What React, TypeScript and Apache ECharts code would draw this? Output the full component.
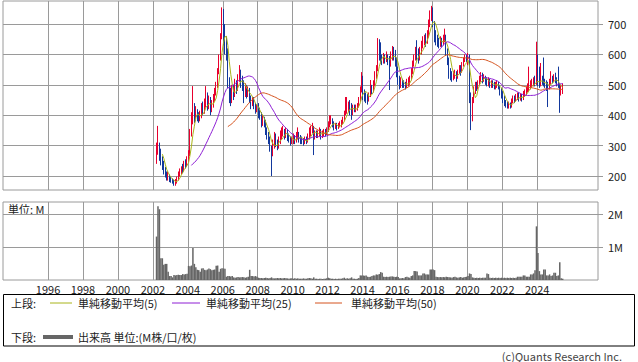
import React, { useEffect, useRef } from "react";
import * as echarts from "echarts";

// Monthly data, first candle = March 2002
const START_YEAR = 2002;
const START_MONTH = 3;

// [open, close, low, high]
const candles: [number, number, number, number][] = [
  // 2002 (Mar-Dec)
  [260, 290, 240, 310], [290, 300, 270, 365], [300, 280, 250, 310], [280, 250, 235, 290], [250, 240, 220, 265],
  [240, 220, 205, 250], [220, 205, 195, 230], [205, 195, 185, 215], [195, 200, 185, 215], [200, 190, 180, 205],
  // 2003
  [190, 185, 178, 200], [185, 180, 175, 192], [180, 175, 168, 188], [175, 180, 168, 190], [180, 190, 175, 198], [190, 205, 185, 215],
  [205, 215, 198, 225], [215, 225, 205, 232], [225, 220, 210, 240], [220, 240, 215, 250], [240, 235, 225, 255], [235, 255, 230, 265],
  // 2004
  [255, 270, 245, 285], [270, 340, 265, 355], [340, 390, 330, 410], [390, 430, 370, 496], [430, 390, 375, 440], [390, 410, 380, 430],
  [410, 395, 380, 420], [395, 390, 375, 410], [390, 400, 380, 415], [400, 420, 390, 440], [420, 415, 400, 445], [415, 440, 405, 455],
  // 2005
  [440, 455, 425, 496], [455, 430, 415, 475], [430, 445, 420, 465], [445, 420, 400, 460], [420, 435, 410, 450], [435, 455, 425, 470],
  [455, 475, 445, 490], [475, 500, 465, 510], [500, 545, 490, 555], [545, 590, 535, 600], [590, 660, 580, 670], [660, 740, 650, 755],
  // 2006
  [740, 660, 630, 750], [660, 640, 600, 700], [640, 600, 580, 660], [600, 510, 490, 620], [510, 470, 440, 525], [470, 455, 430, 490],
  [455, 480, 440, 500], [480, 470, 450, 500], [470, 500, 460, 520], [500, 490, 470, 515], [490, 520, 480, 535], [520, 540, 510, 565],
  // 2007
  [540, 510, 490, 550], [510, 500, 480, 530], [500, 470, 440, 515], [470, 490, 460, 505], [490, 475, 455, 500], [475, 480, 460, 495],
  [480, 455, 440, 490], [455, 440, 420, 465], [440, 450, 430, 460], [450, 430, 420, 460], [430, 420, 405, 440], [420, 425, 410, 435],
  // 2008
  [425, 410, 390, 440], [410, 400, 385, 425], [400, 380, 360, 410], [380, 385, 365, 400], [385, 375, 360, 395], [375, 350, 335, 385],
  [350, 335, 320, 360], [335, 320, 305, 345], [320, 295, 280, 330], [295, 275, 200, 300], [275, 300, 265, 320], [300, 320, 290, 345],
  // 2009
  [320, 310, 295, 340], [310, 300, 285, 320], [300, 315, 290, 330], [315, 335, 305, 350], [335, 340, 320, 360], [340, 345, 330, 365],
  [345, 335, 320, 355], [335, 345, 325, 360], [345, 330, 315, 355], [330, 320, 310, 340], [320, 310, 300, 330], [310, 320, 305, 330],
  // 2010
  [320, 325, 305, 340], [325, 315, 305, 335], [315, 330, 310, 345], [330, 340, 320, 360], [340, 325, 310, 345], [325, 320, 305, 335],
  [320, 315, 305, 330], [315, 310, 300, 325], [310, 320, 305, 330], [320, 315, 305, 330], [315, 325, 310, 340], [325, 340, 320, 360],
  // 2011
  [340, 350, 330, 365], [350, 360, 340, 375], [360, 330, 269, 365], [330, 340, 320, 350], [340, 335, 325, 350], [335, 340, 325, 350],
  [340, 345, 330, 360], [345, 335, 320, 355], [335, 340, 325, 350], [340, 345, 330, 355], [345, 340, 330, 355], [340, 350, 335, 360],
  // 2012
  [350, 365, 345, 380], [365, 380, 360, 400], [380, 385, 370, 400], [385, 370, 360, 390], [370, 360, 350, 380], [360, 365, 355, 375],
  [365, 360, 350, 375], [360, 365, 355, 375], [365, 370, 360, 380], [370, 375, 360, 385], [375, 385, 370, 395], [385, 405, 380, 415],
  // 2013
  [405, 420, 400, 460], [420, 425, 405, 460], [425, 430, 410, 445], [430, 420, 400, 450], [420, 410, 385, 440], [410, 425, 400, 435],
  [425, 420, 410, 435], [420, 425, 410, 435], [425, 430, 415, 440], [430, 450, 425, 460], [450, 480, 445, 495], [480, 520, 475, 542],
  // 2014
  [520, 470, 450, 530], [470, 465, 445, 485], [465, 455, 440, 475], [455, 450, 435, 470], [450, 465, 445, 475], [465, 490, 460, 516],
  [490, 480, 470, 500], [480, 500, 475, 515], [500, 530, 495, 545], [530, 550, 520, 565], [550, 620, 545, 654], [620, 600, 580, 650],
  // 2015
  [600, 585, 570, 640], [585, 580, 565, 600], [580, 590, 570, 605], [590, 585, 570, 600], [585, 595, 575, 610], [595, 580, 565, 600],
  [580, 575, 483, 595], [575, 590, 560, 610], [590, 620, 580, 628], [620, 605, 580, 625], [605, 580, 560, 615], [580, 540, 525, 590],
  // 2016
  [540, 520, 500, 560], [520, 500, 485, 530], [500, 510, 490, 525], [510, 505, 490, 520], [505, 500, 490, 515], [500, 495, 485, 510],
  [495, 505, 490, 520], [505, 510, 495, 525], [510, 520, 500, 530], [520, 545, 515, 555], [545, 570, 535, 580], [570, 590, 560, 600],
  // 2017
  [590, 610, 580, 625], [610, 600, 580, 647], [600, 590, 570, 620], [590, 610, 580, 625], [610, 630, 600, 645], [630, 640, 620, 660],
  [640, 650, 630, 665], [650, 645, 625, 670], [645, 665, 635, 680], [665, 700, 655, 715], [700, 725, 690, 745], [725, 740, 710, 760],
  // 2018
  [740, 700, 690, 755], [700, 670, 640, 710], [670, 650, 630, 680], [650, 640, 625, 665], [640, 635, 620, 655], [635, 645, 625, 660],
  [645, 640, 625, 655], [640, 650, 630, 665], [650, 660, 640, 685], [660, 610, 595, 665], [610, 580, 565, 620], [580, 540, 520, 590],
  // 2019
  [540, 530, 515, 555], [530, 525, 510, 545], [525, 530, 515, 545], [530, 535, 520, 550], [535, 525, 510, 545], [525, 540, 520, 550],
  [540, 555, 535, 565], [555, 545, 530, 565], [545, 565, 540, 575], [565, 580, 560, 590], [580, 590, 575, 600], [590, 585, 575, 600],
  // 2020
  [585, 590, 565, 605], [590, 460, 440, 600], [460, 395, 351, 475], [395, 450, 380, 460], [450, 485, 440, 495], [485, 500, 470, 510],
  [500, 495, 480, 510], [495, 505, 485, 515], [505, 520, 500, 530], [520, 530, 510, 542], [530, 520, 505, 540], [520, 525, 510, 535],
  // 2021
  [525, 515, 500, 530], [515, 505, 495, 525], [505, 510, 495, 525], [510, 500, 490, 520], [500, 505, 490, 515], [505, 500, 490, 515],
  [500, 495, 485, 510], [495, 500, 485, 510], [500, 505, 490, 515], [505, 495, 485, 510], [495, 480, 465, 500], [480, 470, 455, 490],
  // 2022
  [470, 455, 440, 480], [455, 440, 430, 465], [440, 435, 425, 450], [435, 430, 422, 445], [430, 435, 422, 445], [435, 430, 422, 442],
  [430, 445, 425, 455], [445, 455, 440, 465], [455, 450, 440, 465], [450, 460, 445, 470], [460, 465, 450, 475], [465, 455, 445, 475],
  // 2023
  [455, 460, 448, 472], [460, 455, 445, 470], [455, 465, 450, 480], [465, 475, 460, 485], [475, 485, 465, 495], [485, 490, 475, 505],
  [490, 495, 480, 560], [495, 500, 485, 515], [500, 505, 490, 520], [505, 510, 495, 525], [510, 505, 495, 530], [505, 525, 500, 642],
  // 2024
  [525, 510, 495, 600], [510, 500, 490, 560], [500, 520, 495, 572], [520, 510, 500, 530], [510, 505, 495, 590], [505, 500, 490, 520],
  [500, 495, 480, 515], [495, 490, 427, 510], [490, 505, 485, 520], [505, 520, 500, 545], [520, 515, 505, 530], [515, 525, 510, 535],
  // 2025 (Jan-Jun)
  [525, 515, 505, 540], [515, 505, 495, 525], [505, 500, 490, 560], [500, 470, 408, 505], [470, 490, 465, 500], [478, 495, 470, 505],
];

// Monthly volume, millions
const volumes: number[] = [
  1.32, 2.24, 2.15, 0.66, 0.66, 0.46, 0.49, 0.49, 0.25, 0.12,
  0.12, 0.08, 0.15, 0.14, 0.15, 0.16, 0.15, 0.15, 0.18, 0.17, 0.18, 0.19,
  0.43, 0.42, 0.44, 0.97, 0.49, 0.39, 0.31, 0.30, 0.25, 0.35, 0.36, 0.31,
  0.30, 0.32, 0.35, 0.33, 0.30, 0.31, 0.32, 0.43, 0.44, 0.25, 0.34, 0.36,
  0.35, 0.34, 0.10, 0.12, 0.12, 0.11, 0.12, 0.08, 0.07, 0.08, 0.09, 0.08,
  0.08, 0.09, 0.08, 0.07, 0.08, 0.10, 0.31, 0.12, 0.12, 0.11, 0.12, 0.10,
  0.07, 0.06, 0.06, 0.05, 0.06, 0.07, 0.06, 0.05, 0.06, 0.08, 0.05, 0.05,
  0.05, 0.06, 0.05, 0.06, 0.05, 0.05, 0.06, 0.05, 0.05, 0.04, 0.05, 0.05,
  0.04, 0.05, 0.04, 0.05, 0.04, 0.04, 0.04, 0.05, 0.04, 0.04, 0.05, 0.06,
  0.05, 0.04, 0.08, 0.04, 0.04, 0.03, 0.04, 0.04, 0.03, 0.04, 0.04, 0.05,
  0.07, 0.05, 0.04, 0.04, 0.03, 0.04, 0.03, 0.04, 0.04, 0.04, 0.05, 0.07,
  0.04, 0.05, 0.04, 0.05, 0.08, 0.04, 0.04, 0.03, 0.04, 0.06, 0.14, 0.14,
  0.14, 0.13, 0.14, 0.10, 0.09, 0.10, 0.12, 0.14, 0.14, 0.17, 0.16, 0.18,
  0.24, 0.22, 0.10, 0.09, 0.10, 0.09, 0.10, 0.11, 0.11, 0.10, 0.09, 0.10,
  0.09, 0.05, 0.05, 0.06, 0.05, 0.09, 0.10, 0.08, 0.07, 0.12, 0.14, 0.27,
  0.27, 0.26, 0.14, 0.14, 0.14, 0.20, 0.20, 0.17, 0.17, 0.17, 0.32, 0.32,
  0.32, 0.30, 0.10, 0.09, 0.08, 0.09, 0.08, 0.09, 0.08, 0.10, 0.09, 0.08,
  0.08, 0.07, 0.09, 0.10, 0.08, 0.07, 0.08, 0.09, 0.07, 0.08, 0.09, 0.10,
  0.12, 0.20, 0.18, 0.08, 0.07, 0.06, 0.07, 0.06, 0.07, 0.06, 0.07, 0.07,
  0.07, 0.20, 0.18, 0.07, 0.06, 0.07, 0.06, 0.07, 0.06, 0.07, 0.06, 0.07,
  0.06, 0.07, 0.06, 0.07, 0.06, 0.07, 0.06, 0.07, 0.06, 0.07, 0.10, 0.10,
  0.10, 0.10, 0.14, 0.14, 0.10, 0.10, 0.10, 0.17, 0.17, 0.20, 0.30, 1.63,
  0.82, 0.27, 0.17, 0.17, 0.32, 0.32, 0.14, 0.14, 0.17, 0.12, 0.14, 0.22,
  0.22, 0.12, 0.14, 0.54, 0.05, 0.04,
];

const yearTicks = [1996, 1998, 2000, 2002, 2004, 2006, 2008, 2010, 2012, 2014, 2016, 2018, 2020, 2022, 2024];
const priceTicks = [200, 300, 400, 500, 600, 700];
const volumeTicks = [1, 2];
const maPeriods = [5, 25, 50];
const maLabels = ["単純移動平均(5)", "単純移動平均(25)", "単純移動平均(50)"];
const volumeLabel = "出来高 単位:(M株/口/枚)";

const MA_COLORS = ["#a8b41a", "#8e1fd4", "#d4531e"];
const UP = "#e8002e";
const DOWN = "#12389c";
const GRID = "#9a9a9a";
const FONT = '"Noto Sans CJK JP", "Noto Sans", sans-serif';

function monthX(i: number): number {
  const m = START_MONTH - 1 + i;
  return START_YEAR + (m + 0.5) / 12;
}

function movingAverage(period: number): [number, number][] {
  const out: [number, number][] = [];
  for (let i = period - 1; i < candles.length; i++) {
    let s = 0;
    for (let k = i - period + 1; k <= i; k++) s += candles[k][1];
    out.push([monthX(i), s / period]);
  }
  return out;
}

export default function App() {
  const ref = useRef<HTMLDivElement>(null);

  useEffect(() => {
    if (!ref.current) return;
    const chart = echarts.init(ref.current, null, { renderer: "svg" });

    const xCommon = {
      type: "value" as const,
      min: 1993.42,
      max: 2027.48,
      axisLine: { show: false },
      axisTick: { show: false, customValues: yearTicks },
      splitLine: { show: true, lineStyle: { color: GRID, width: 1 } },
    };

    const legendRow1 = 303;
    const legendRow2 = 337;
    const textStyle = (text: string, x: number, y: number, extra: any = {}) => ({
      type: "text",
      x,
      y,
      silent: true,
      style: {
        text,
        fill: "#222",
        fontSize: 11,
        lineHeight: 12,
        fontFamily: FONT,
        verticalAlign: "middle",
        ...extra,
      },
    });

    const maLinePos = [
      [50, 72, 78],
      [172, 200, 206],
      [315, 342, 351],
    ];

    const graphics: any[] = [
      {
        type: "rect",
        shape: { x: 3.5, y: 294.5, width: 631, height: 51.5 },
        style: { fill: "#fff", stroke: "#000", lineWidth: 1 },
        silent: true,
      },
      textStyle("上段:", 11, legendRow1),
      textStyle("下段:", 11, legendRow2),
      {
        type: "line",
        shape: { x1: 43, y1: legendRow2, x2: 73, y2: legendRow2 },
        style: { stroke: "#666", lineWidth: 4 },
        silent: true,
      },
      textStyle(volumeLabel, 78, legendRow2),
      textStyle("単位: M", 8, 209),
      textStyle("(c)Quants Research Inc.", 622, 355.5, { align: "right", fill: "#444" }),
    ];
    maLabels.forEach((label, k) => {
      const [x1, x2, tx] = maLinePos[k];
      graphics.push({
        type: "line",
        shape: { x1, y1: legendRow1, x2, y2: legendRow1 },
        style: { stroke: MA_COLORS[k], lineWidth: 1 },
        silent: true,
      });
      graphics.push(textStyle(label, tx, legendRow1));
    });

    const option: any = {
      animation: false,
      textStyle: { fontFamily: FONT },
      grid: [
        { left: 3, top: 1, width: 595, height: 189, show: true, borderColor: GRID, borderWidth: 1, backgroundColor: "#fff" },
        { left: 3, top: 202, width: 595, height: 78, show: true, borderColor: GRID, borderWidth: 1, backgroundColor: "#fff" },
      ],
      xAxis: [
        { ...xCommon, gridIndex: 0, axisLabel: { show: false, customValues: yearTicks } },
        {
          ...xCommon,
          gridIndex: 1,
          axisLabel: {
            show: true,
            customValues: yearTicks,
            formatter: (v: number) => String(v),
            fontSize: 11,
            lineHeight: 11,
            color: "#222",
            margin: 3,
            fontFamily: FONT,
          },
        },
      ],
      yAxis: [
        {
          type: "value",
          gridIndex: 0,
          position: "right",
          min: 154,
          max: 776,
          axisLine: { show: false },
          axisTick: { show: true, customValues: priceTicks, length: 5, lineStyle: { color: GRID } },
          axisLabel: { customValues: priceTicks, fontSize: 11, color: "#222", margin: 10, fontFamily: FONT, formatter: (v: number) => String(v) },
          splitLine: { show: true, lineStyle: { color: GRID, width: 1 } },
        },
        {
          type: "value",
          gridIndex: 1,
          position: "right",
          min: 0,
          max: 2.37,
          axisLine: { show: false },
          axisTick: { show: true, customValues: volumeTicks, length: 5, lineStyle: { color: GRID } },
          axisLabel: { customValues: volumeTicks, fontSize: 11, color: "#222", margin: 10, fontFamily: FONT, formatter: (v: number) => `${v}M` },
          splitLine: { show: true, lineStyle: { color: GRID, width: 1 } },
        },
      ],
      series: [
        {
          type: "candlestick",
          xAxisIndex: 0,
          yAxisIndex: 0,
          data: candles.map((c, i) => [monthX(i), c[0], c[1], c[2], c[3]]),
          encode: { x: 0, y: [1, 2, 3, 4] },
          barWidth: 1.2,
          itemStyle: { color: UP, color0: DOWN, borderColor: UP, borderColor0: DOWN, borderWidth: 1 },
        },
        ...maPeriods.map((p, k) => ({
          type: "line",
          xAxisIndex: 0,
          yAxisIndex: 0,
          data: movingAverage(p),
          showSymbol: false,
          symbol: "none",
          lineStyle: { color: MA_COLORS[k], width: 1 },
          z: 3,
        })),
        {
          type: "bar",
          xAxisIndex: 1,
          yAxisIndex: 1,
          data: volumes.map((v, i) => [monthX(i), v]),
          barWidth: 1.5,
          itemStyle: { color: "#666" },
        },
      ],
      graphic: graphics,
    };

    chart.setOption(option);
    return () => chart.dispose();
  }, []);

  return <div ref={ref} style={{ position: "absolute", left: 0, top: 0, width: 638, height: 362 }} />;
}
